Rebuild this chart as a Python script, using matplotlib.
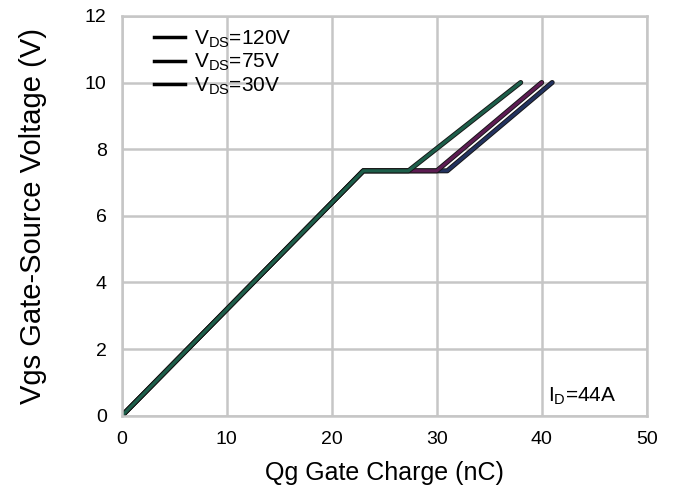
import matplotlib.pyplot as plt
import matplotlib.patheffects as pe
from matplotlib.lines import Line2D

plt.rcParams['font.family'] = ['Liberation Sans', 'DejaVu Sans']

# gate charge curves: (Qg nC, Vgs V)
labels = ["120V", "75V", "30V"]
qg_120 = [0, 23, 31.0, 41.0]
vgs_120 = [0, 7.35, 7.35, 10]
qg_75 = [0, 23, 30.0, 40.0]
vgs_75 = [0, 7.35, 7.35, 10]
qg_30 = [0, 23, 27.3, 38.0]
vgs_30 = [0, 7.35, 7.35, 10]
colors = ["#22325e", "#5c1c52", "#1d5e4a"]

fig = plt.figure(figsize=(6.85, 4.95), dpi=100)
ax = fig.add_axes([0.178, 0.16, 0.766, 0.808])

outline = [pe.Stroke(linewidth=3.6, foreground="#151515"), pe.Normal()]
for q, v, c in zip([qg_120, qg_75, qg_30], [vgs_120, vgs_75, vgs_30], colors):
    ax.plot(q, v, color=c, linewidth=2.3, solid_capstyle="round",
            path_effects=outline)

ax.set_xlim(0, 50)
ax.set_ylim(0, 12)
ax.set_xticks(range(0, 51, 10))
ax.set_yticks(range(0, 13, 2))
ax.grid(True, color="#c6c6c6", linewidth=1.8)
ax.set_axisbelow(True)
for s in ax.spines.values():
    s.set_color("#c6c6c6")
    s.set_linewidth(1.8)
ax.tick_params(length=0, labelsize=14)
ax.tick_params(axis="y", pad=11)
ax.tick_params(axis="x", pad=11)
ax.set_xlabel("Qg Gate Charge (nC)", fontsize=18, labelpad=9)
ax.set_ylabel("Vgs Gate-Source Voltage (V)", fontsize=21, labelpad=27)

handles = [Line2D([], [], color="black", linewidth=2.5) for _ in labels]
ax.legend(handles, [r"$\mathregular{V_{DS}}$=" + l for l in labels],
          loc="upper left", bbox_to_anchor=(0.025, 1.015), frameon=False,
          fontsize=15, handlelength=1.5, labelspacing=0.1, handletextpad=0.45)

ax.text(40.6, 0.42, r"$\mathregular{I_D}$=44A", fontsize=15)

fig.savefig("out.png", dpi=100)
